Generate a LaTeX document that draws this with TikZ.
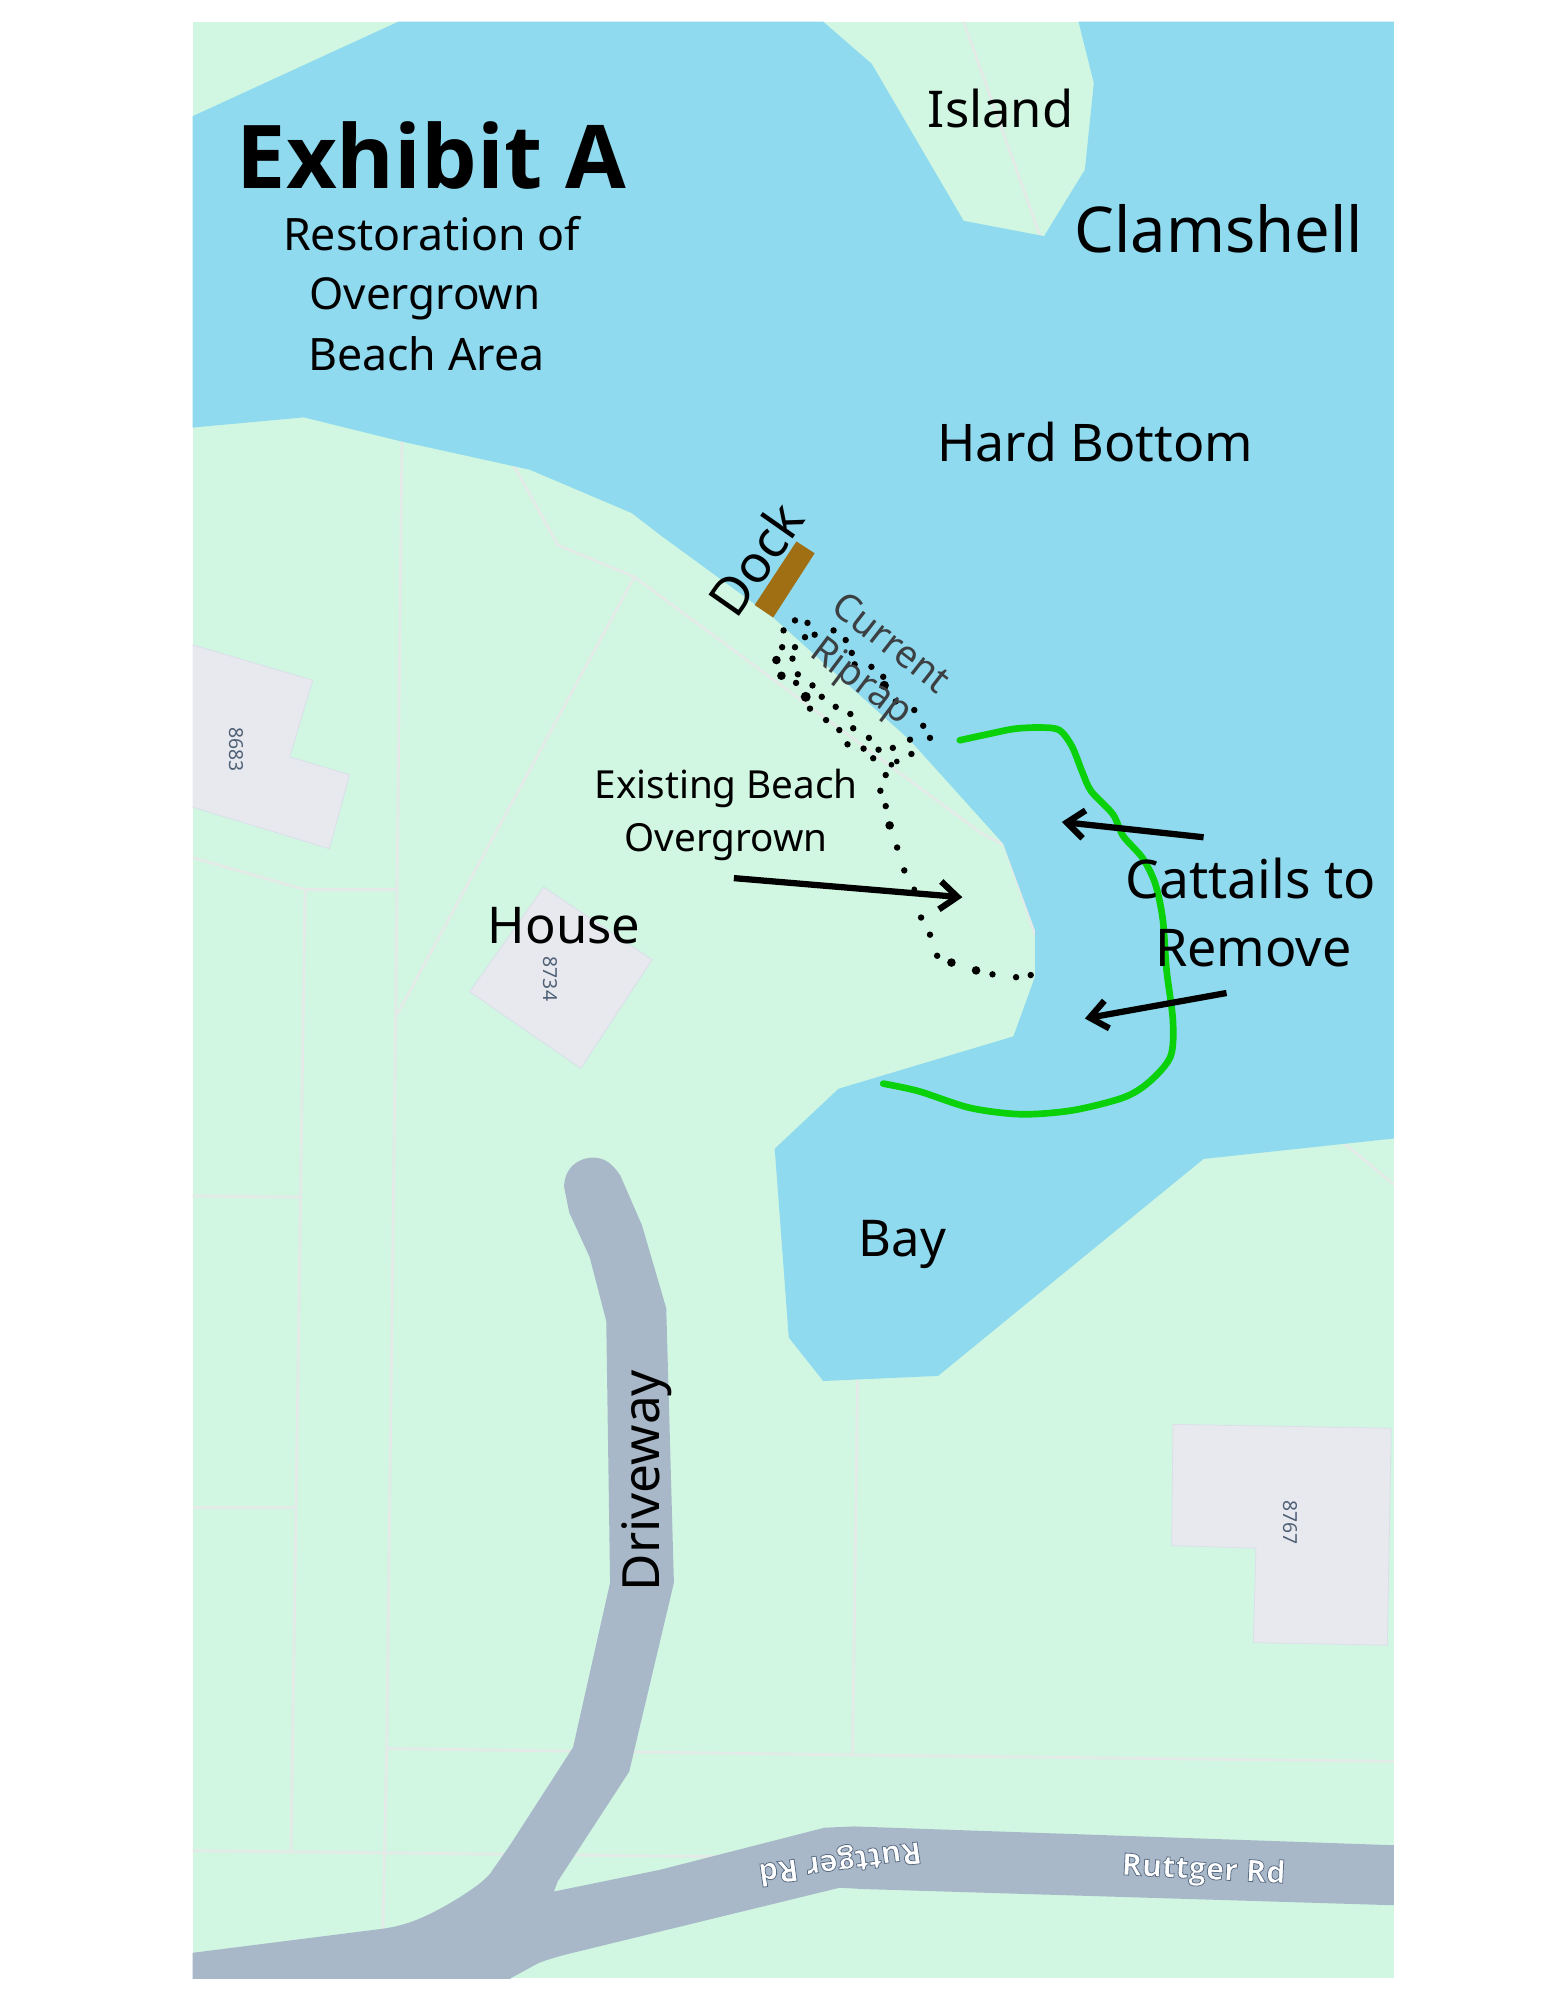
\documentclass[tikz,border=0pt]{standalone}
\usepackage{fontspec}
\setmainfont{Noto Sans}
\newfontfamily\boldf{Open Sans}
\usetikzlibrary{arrows.meta}
\definecolor{land}{HTML}{D1F7E2}
\definecolor{water}{HTML}{8FDAEF}
\definecolor{road}{HTML}{A8B8C9}
\definecolor{bldg}{HTML}{E7E9EE}
\definecolor{bldgedge}{HTML}{DADFEA}
\definecolor{parcel}{HTML}{E4EAE7}
\definecolor{cattail}{HTML}{0AD10A}
\definecolor{dockc}{HTML}{A06F14}
\definecolor{riprap}{HTML}{3C4043}
\definecolor{numc}{HTML}{4F6076}
\newcommand{\roadtext}[1]{\special{pdf:literal 2 Tr 0.6 w 0.36 0.43 0.52 RG}#1\special{pdf:literal 0 Tr}}
\tikzset{
  lbl/.style={inner sep=0pt,text=black,font=\fontsize{#1}{#1}\selectfont},
  parcelline/.style={draw=parcel,line width=2.1pt},
  building/.style={fill=bldg,draw=bldgedge,line width=0.6pt},
  bignum/.style={inner sep=0pt,text=numc,font=\fontsize{14.5}{14.5}\selectfont,rotate=-90},
  callout/.style={-{Straight Barb[length=13pt,width=21pt,line width=4.7pt]},line width=4.7pt,black},
  roadlbl/.style={inner sep=0pt,text=white,font=\boldf\fontsize{23}{23}\selectfont\bfseries},
}
\begin{document}
\begin{tikzpicture}[x=0.9572pt,y=-0.9572pt]
\useasboundingbox (0,0) rectangle (1210.5,1567);
\fill[white] (0,0) rectangle (1210.5,1567);
\begin{scope}
\clip (151,17) rectangle (1092,1550);
\fill[land] (151,17) rectangle (1092,1550);
% parcel lines
\draw[parcelline] (755,17) -- (815,185);
\draw[parcelline] (315,340) -- (310,795) -- (303,1370) -- (300,1512);
\draw[parcelline] (303,1370) -- (668,1375) -- (1092,1380);
\draw[parcelline] (672,1075) -- (668,1375);
\draw[parcelline] (151,672) -- (239,697) -- (311,697);
\draw[parcelline] (239,697) -- (228,1450);
\draw[parcelline] (151,937) -- (235,938);
\draw[parcelline] (151,1181) -- (232,1181);
\draw[parcelline] (151,1450) -- (590,1455);
\draw[parcelline] (311,795) -- (497,452);
\draw[parcelline] (400,360) -- (437,427) -- (497,452) -- (769,653) -- (787,662) -- (812,735);
\draw[parcelline] (1040,885) -- (1092,928);
% water
\fill[water] (151,91) -- (312,17) -- (645,17) -- (683,50) -- (755,173) -- (818,185) -- (850,133) -- (857,65) -- (845,17) -- (1092,17) -- (1092,892) -- (943,908) -- (735,1078) -- (645,1082) -- (618,1048) -- (607,900) -- (657,853) -- (794,812) -- (811,765) -- (811,729) -- (786,661) -- (713,580) -- (606,484) -- (517,419) -- (495,402) -- (415,368) -- (315,346) -- (238,327) -- (151,335) -- cycle;
% buildings
\draw[building] (140,502) -- (245,533) -- (227,593) -- (274,607) -- (258,665) -- (140,629) -- cycle;
\draw[building] (426,695) -- (511,752) -- (455,837) -- (368,777) -- cycle;
\draw[building] (919,1116) -- (1090,1119) -- (1087,1289) -- (982,1287) -- (984,1213) -- (918,1211) -- cycle;
% road
\fill[road] (140,1532) -- (151,1530) -- (301,1511) .. controls (320,1508) and (335,1502) .. (361,1486) .. controls (370,1480) and (378,1475) .. (384,1468) -- (400,1445) -- (449,1369) -- (478,1240) -- (475,1035) -- (462,985) -- (446,950) -- (442,930)
  .. controls (442,916) and (452,907) .. (465,907) .. controls (474,907) and (480,912) .. (486,921)
  -- (503,960) -- (522,1025) -- (528,1240) -- (493,1388) -- (437,1474) -- (434,1482) -- (517,1465) -- (646,1432) -- (669,1431) -- (1100,1446) -- (1100,1493) -- (675,1480) -- (658,1479) -- (453,1529) .. controls (440,1532) and (430,1535) .. (422,1538) -- (400,1550) -- (400,1560) -- (140,1560) -- cycle;
\node[roadlbl,rotate=-3] (rdA) at (943,1466) {\roadtext{Ruttger Rd}};
\node[roadlbl,rotate=188] (rdB) at (658,1458) {\roadtext{Ruttger Rd}};
\node[bignum] (n1) at (185,587) {8683};
\node[bignum] (n2) at (431,767) {8734};
\node[bignum] (n3) at (1011,1193) {8767};
\end{scope}
% cattails line
\draw[cattail,line width=5pt,line cap=round,line join=round] plot[smooth,tension=0.5] coordinates {(752,580) (775,575) (795,571) (815,570) (830,572) (840,585) (848,605) (855,620) (872,638) (880,655) (895,672) (905,692) (911,720) (914,760) (919,800) (917,828) (900,848) (880,860) (840,870) (800,873) (760,868) (720,855) (692,849)};
% dock and dots
\begin{scope}[shift={(517.1,376.1)},x=0.26786pt,y=-0.26786pt]
\fill[dockc] (382,172) -- (433,205) -- (317,385) -- (265,350) -- cycle;
\foreach \a/\b/\r in {378/393/9,413/400/9,346/421/9,406/440/9,433/433/9,486/421/9,520/448/9,342/468/9,378/468/9,537/484/9,326/504/12,371/500/9,545/516/9,592/523/9,625/551/9,340/548/12,386/544/9,628/575/13,381/568/9,427/575/9,408/607/14,453/607/9,660/620/9,492/635/9,533/655/9,420/640/9,712/644/9,465/672/9,737/688/9,541/695/9,502/700/9,756/722/9,700/727/9,585/722/9,525/740/9,570/752/9,612/755/9,652/750/9,704/767/9,597/779/9,648/797/8,663/788/8,632/826/9,617/870/9,632/913/9,643/967/12,664/1029/9,684/1093/9,712/1146/8,731/1225/9,756/1273/9,776/1332/9,816/1351/12,885/1373/12,931/1384/9,997/1392/9,1038/1386/9}
  \fill[black] (\a,\b) circle (\r);
\end{scope}
% arrows
\coordinate (a1s) at (575,688); \coordinate (a1e) at (754,703);
\coordinate (a2s) at (943,656); \coordinate (a2e) at (832,644);
\coordinate (a3s) at (961,778); \coordinate (a3e) at (850,798);
\draw[callout] (a1s) -- (a1e);
\draw[callout] (a2s) -- (a2e);
\draw[callout] (a3s) -- (a3e);
% labels
\node[inner sep=0pt,font=\boldf\fontsize{66}{66}\selectfont\bfseries] (title) at (338,122) {Exhibit A};
\node[lbl=33.5] (s1) at (338,183) {Restoration of};
\node[lbl=33] (s2) at (333,234) {Overgrown};
\node[lbl=33.5] (s3) at (334,277) {Beach Area};
\node[lbl=38] (island) at (784,85) {Island};
\node[lbl=47.4] (clam) at (955,179) {Clamshell};
\node[lbl=38.9] (hard) at (858,346) {Hard Bottom};
\node[lbl=39,rotate=55] (dock) at (592,438) {Dock};
\node[lbl=28.5,text=riprap,rotate=-38] (cur) at (699,503) {Current};
\node[lbl=28.5,text=riprap,rotate=-37] (rip) at (674,535) {Riprap};
\node[lbl=29] (ex1) at (569,618) {Existing Beach};
\node[lbl=29] (ex2) at (569,660) {Overgrown};
\node[lbl=38] (house) at (442,725) {House};
\node[lbl=40] (cat1) at (980,688) {Cattails to};
\node[lbl=39] (cat2) at (982,743) {Remove};
\node[lbl=38] (bay) at (707,975) {Bay};
\node[lbl=38.5,rotate=90] (drive) at (507,1160) {Driveway};
\end{tikzpicture}
\end{document}
